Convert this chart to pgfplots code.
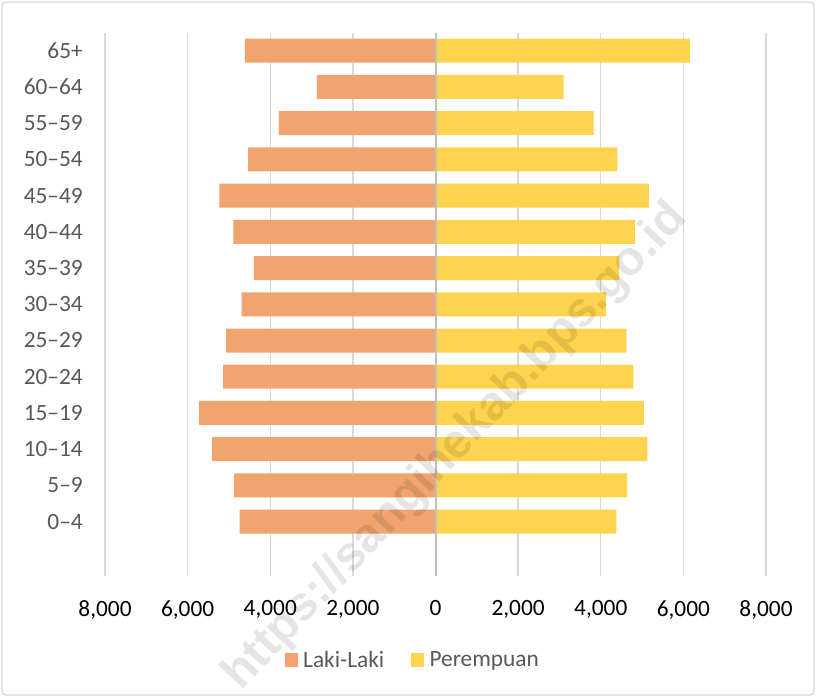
\documentclass[border=0pt]{standalone}
\usepackage{pgfplots}
\pgfplotsset{compat=1.18}
\usepackage{fontspec}
\setmainfont{Carlito}
\newfontfamily\wmfont{Liberation Sans}
\definecolor{male}{HTML}{F1A46E}
\definecolor{female}{HTML}{FED34D}
\definecolor{txtgray}{HTML}{595959}
\definecolor{gridgray}{HTML}{D9D9D9}
\definecolor{zerogray}{HTML}{BFBFBF}
\pgfplotstableread{
y male female
0 -4744 4378
1 -4882 4638
2 -5406 5130
3 -5721 5042
4 -5139 4790
5 -5067 4622
6 -4695 4129
7 -4397 4444
8 -4890 4824
9 -5229 5164
10 -4533 4403
11 -3791 3830
12 -2870 3103
13 -4616 6158
}\pyramid
\begin{document}
\begin{tikzpicture}[x=0.75pt,y=0.75pt]
\useasboundingbox (0,0) rectangle (816,697);
\fill[white] (0,0) rectangle (816,697);
\draw[gridgray, line width=1pt, rounded corners=3pt] (2,2) rectangle (814,695);
\begin{axis}[
  at={(78.75pt,90.75pt)}, anchor=south west,
  scale only axis, width=495.75pt, height=407.6pt,
  xmin=-8000, xmax=8000, ymin=-1.5, ymax=13.5,
  xbar, bar width=18pt, bar shift=0pt,
  xtick={-8000,-6000,-4000,-2000,0,2000,4000,6000,8000},
  xticklabels={{8,000},{6,000},{4,000},{2,000},0,{2,000},{4,000},{6,000},{8,000}},
  ytick={0,1,2,3,4,5,6,7,8,9,10,11,12,13},
  yticklabels={0–4,5–9,10–14,15–19,20–24,25–29,30–34,35–39,40–44,45–49,50–54,55–59,60–64,65+},
  xmajorgrids, ymajorgrids=false,
  major grid style={gridgray, line width=1.1pt},
  axis line style={draw=none},
  major tick length=0pt, tick style={draw=none},
  xticklabel style={anchor=north, inner sep=0pt, yshift=-18pt, text=black, font=\fontsize{17.5}{21}\selectfont},
  yticklabel style={anchor=east, inner sep=0pt, xshift=-16.5pt, text=txtgray, font=\fontsize{17.5}{21}\selectfont},
  legend style={at={(0.468,-0.1546)}, anchor=center, draw=none, fill=none,
    legend columns=2, font=\fontsize{17.5}{21}\selectfont, text=txtgray,
    /tikz/every even column/.append style={column sep=16pt},
    /tikz/every odd column/.append style={column sep=0pt},
    nodes={inner xsep=4pt}},
  legend cell align=left,
  legend image code/.code={\fill[#1] (0pt,-5pt) rectangle (10pt,5pt);},
]
\addplot[fill=male, draw=none] table[x=male, y=y] {\pyramid};
\addplot[fill=female, draw=none] table[x=female, y=y] {\pyramid};
\draw[zerogray, line width=1.5pt] (axis cs:0,-1.5) -- (axis cs:0,13.5);
\legend{Laki-Laki, Perempuan}
\end{axis}
\node[rotate=46.6, text=black, opacity=0.1, font=\wmfont\bfseries\fontsize{36}{40}\selectfont] at (456,250) {https://sangihekab.bps.go.id};
\end{tikzpicture}
\end{document}
